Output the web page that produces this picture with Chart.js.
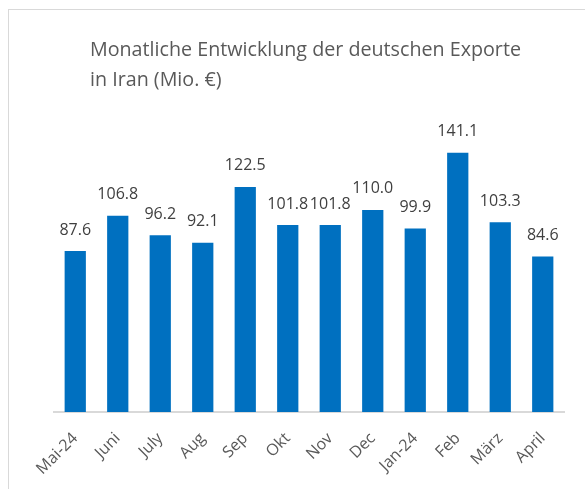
<!DOCTYPE html>
<html lang="de">
<head>
    <meta charset="UTF-8">
    <title>Exporte Iran</title>
    <script src="https://cdn.jsdelivr.net/npm/chart.js"></script>
    <style>
        body { margin: 0; background: #fff; font-family: "Open Sans", sans-serif; }
        #box { position: absolute; left: 8px; top: 9px; width: 577px; height: 480px;
               border-top: 1px solid #d9d9d9; border-left: 1px solid #d9d9d9; }
        #titel { position: absolute; left: 81px; top: 24px; font-size: 19.7px; line-height: 30px; color: #595959; }
        canvas { position: absolute; left: 0; top: 0; }
    </style>
</head>
<body>
    <div id="box">
        <canvas id="chartExporte" width="577" height="480"></canvas>
        <div id="titel">Monatliche Entwicklung der deutschen Exporte<br>in Iran (Mio. €)</div>
    </div>

    <script>
        let monate = ["Mai-24", "Juni", "July", "Aug", "Sep", "Okt", "Nov", "Dec", "Jan-24", "Feb", "März", "April"];
        let exporte = [87.6, 106.8, 96.2, 92.1, 122.5, 101.8, 101.8, 110.0, 99.9, 141.1, 103.3, 84.6];

        // Werte über die Balken schreiben
        let wertePlugin = {
            id: "werte",
            afterDatasetsDraw(chart) {
                let ctx = chart.ctx;
                let meta = chart.getDatasetMeta(0);
                ctx.save();
                ctx.font = "16px 'Open Sans'";
                ctx.fillStyle = "#404040";
                ctx.textAlign = "center";
                ctx.textBaseline = "middle";
                meta.data.forEach((bar, i) => {
                    ctx.fillText(exporte[i].toFixed(1), bar.x, bar.y - 21);
                });
                ctx.restore();
            }
        };

        let ctx = document.getElementById("chartExporte").getContext("2d");
        let chart = new Chart(ctx, {
            type: "bar",
            data: {
                labels: monate,
                datasets: [{
                    label: "Exporte",
                    data: exporte,
                    backgroundColor: "#0070c0",
                    barPercentage: 0.5,
                    categoryPercentage: 1.0
                }]
            },
            options: {
                responsive: false,
                animation: false,
                layout: { padding: { left: 45, right: 22, top: 108, bottom: 0 } },
                plugins: {
                    legend: { display: false },
                    tooltip: { enabled: false }
                },
                scales: {
                    x: {
                        grid: { display: false },
                        border: { color: "#d9d9d9", width: 2 },
                        ticks: {
                            color: "#595959",
                            font: { family: "Open Sans", size: 16 },
                            minRotation: 45,
                            maxRotation: 45,
                            padding: 9
                        },
                        afterFit(scale) { scale.height = 78; }
                    },
                    y: {
                        display: false,
                        min: 0,
                        max: 160
                    }
                }
            },
            plugins: [wertePlugin]
        });
    </script>
</body>
</html>
